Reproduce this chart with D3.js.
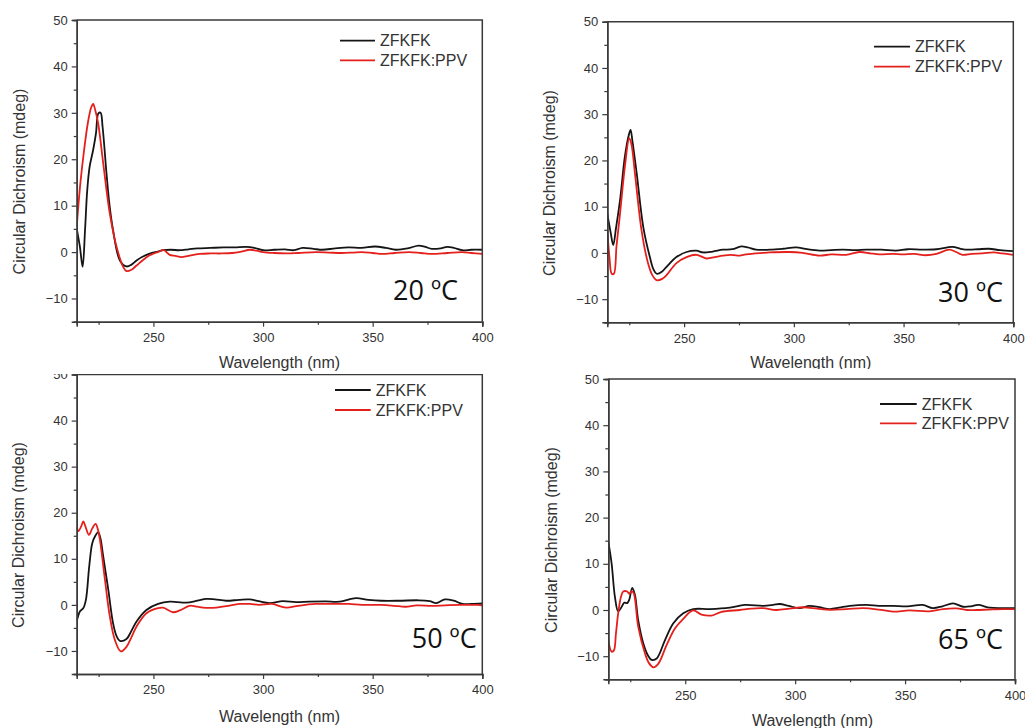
<!DOCTYPE html>
<html>
<head>
<meta charset="utf-8">
<script src="https://cdn.jsdelivr.net/npm/d3@7"></script>
<style>
  html, body { margin: 0; padding: 0; background: #ffffff; }
  svg { display: block; }
</style>
</head>
<body>
<svg id="chart" width="1025" height="728"></svg>
<script>
// ---------------- DATA ----------------
const seriesNames = ["ZFKFK", "ZFKFK:PPV"];
const panelLabels = ["20 ºC", "30 ºC", "50 ºC", "65 ºC"];
const xTickValues = [250, 300, 350, 400];
const xMinorTicks = [225, 275, 325, 375];
const yTickValues = [-10, 0, 10, 20, 30, 40, 50];
const yMinorTicks = [-15, -5, 5, 15, 25, 35, 45];

// 20 ºC
const wl20a = [215,216.5,217.7,218.8,219.8,220.9,222.5,223.8,224.9,225.9,226.8,228.6,230,231.6,234.7,237.7,240,242.3,245,248.3,252,254.4,258,262,266,270,276,282,287,292.3,296,300,305,310,314,318,323,327,333,339,345,351,356,360.5,366,371,374,377,381,384,387,390.8,395,400];
const zf20 = [5.1,1.0,-3.2,4.7,13.3,18.4,22,25.6,29.9,30,27,16.9,10,4.7,-1.8,-3.1,-2.7,-1.8,-1.0,-0.35,0.1,0.4,0.5,0.4,0.6,0.8,0.9,1.0,1.0,1.1,0.9,0.4,0.5,0.6,0.4,0.9,0.7,0.5,0.8,1.0,0.9,1.2,0.9,0.5,0.8,1.4,1.1,0.7,0.8,1.1,0.9,0.4,0.5,0.5];
const wl20b = [215,216.5,218,219.2,220.3,221.5,222.5,223.5,224.8,227.1,230.1,233.2,236.2,237.7,240,242.3,245,248.3,252,254.7,257.4,260,262.7,266,271,276,281,286,290,294,297,300,305,310.5,316,324,330,336,341,345,350,354.4,360,366.6,372,377,384,390.8,395,400];
const ppv20 = [5.4,14,20.5,25,28.4,31,31.9,30.5,27.7,19.1,8.3,1.1,-3.2,-4.1,-3.8,-2.9,-1.8,-0.7,0.0,0.4,-0.6,-0.8,-1.1,-0.8,-0.4,-0.3,-0.3,-0.2,0.1,0.5,0.3,0.0,-0.2,-0.3,-0.2,0.0,-0.1,-0.2,-0.1,0.0,-0.2,-0.4,-0.2,0.0,-0.2,-0.4,-0.2,0.0,-0.2,-0.4];

// 30 ºC
const wl30a = [215,216.5,217.7,219,220.8,223,224.8,225.6,226.5,228.4,231.4,234.4,236,237.5,240,242,246.5,251.1,255.6,258.6,263,267.7,272,276,279,282.8,289,295,301,306,311.7,317,322.3,328,332.8,340,346.5,352,358.6,365,372.3,376,379.8,384,388.9,394,400];
const zf30 = [8.5,4.5,1.7,5.5,11.4,20.8,25.5,26.6,24,17.2,5.6,-0.9,-3.5,-4.5,-4.0,-3.0,-0.9,0.2,0.5,0.1,0.3,0.7,0.8,1.4,1.2,0.7,0.7,0.9,1.2,0.8,0.5,0.6,0.7,0.6,0.7,0.7,0.5,0.8,0.7,0.8,1.3,0.9,0.7,0.8,0.9,0.6,0.4];
const wl30b = [215,216,217,218,219.2,220.8,223,225,226,227.6,230.6,233.6,235.5,237.5,240,242,246.5,251.1,255.6,260.2,264,267.7,271,274.5,278.3,285.8,289,298,304,311.7,317,323.8,329.9,335,339,345,349.6,355,360,365,370.8,374,376.8,381,385.9,391,395,400];
const ppv30 = [4.9,-1,-4.5,-4.5,1.5,8.5,18.6,24.8,23.5,17.2,4.9,-2.3,-4.8,-5.9,-5.6,-4.8,-2.2,-0.9,-0.4,-1.2,-0.9,-0.6,-0.4,-0.6,-0.3,0.0,0.1,0.2,0.0,-0.6,-0.3,-0.4,0.2,-0.1,-0.3,-0.2,-0.3,-0.2,-0.5,-0.2,0.7,0.2,-0.4,-0.2,-0.1,0.1,-0.1,-0.4];

// 50 ºC
const wl50a = [215,216.5,218,219.2,220.7,222.1,223.5,224.8,225.8,227.1,229.4,231.6,233.2,234.7,237.7,240,242.3,246.8,252.1,257.4,261,265,270,274.1,278,283.2,289,293.8,298,303,309,315,321,328.6,335,342.3,348,354,362,371,376,379,383,387,391,395,400];
const zf50 = [-3.6,-1.4,-0.7,1.1,8.3,13.4,15,15.8,14.5,10.5,3.3,-4.0,-6.8,-7.8,-7.4,-5.6,-3.6,-1.1,0.2,0.7,0.6,0.5,0.9,1.3,1.2,0.9,1.1,1.2,0.8,0.4,0.8,0.6,0.7,0.75,0.7,1.45,1.1,0.9,0.9,1.0,0.8,0.4,1.2,0.9,0.2,0.2,0.3];
const wl50b = [215,215.8,217,218,219,220.6,222,223.6,224.6,225.6,227.9,230.1,232.4,235.1,237.7,240,242.3,246.8,252.1,254.4,258.9,262,266.5,270,272.6,278.6,284,289.2,294,298.3,304,310.5,316,324,330,339,345,354,360,365,370,377,383,390,398,400];
const ppv50 = [16.9,16,17,18.1,17,15.2,16.5,17.6,16.5,14.1,5.4,-2.5,-7.6,-10.1,-9.1,-7,-4.7,-1.8,-0.7,-0.6,-1.6,-1.2,-0.2,-0.4,-0.6,-0.6,-0.2,0.2,0.2,0.0,0.2,-0.6,-0.2,0.2,0.2,0.2,0.0,0.0,-0.2,-0.4,-0.1,-0.2,-0.1,0.0,0.0,-0.1];

// 65 ºC
const wl65a = [215,216.5,218,219.5,221.1,222.3,223.6,224.5,225.9,227.1,228.6,230.9,233,234.7,237,240.8,244.5,249.1,253.6,261.2,270.3,277.1,285.4,290,293,297,302,306.5,311,315.8,320,324.9,332.5,338,344.5,351,358,362.6,367,371.8,376.4,380,383.2,388.5,394,400];
const zf65 = [14.8,10.1,2.9,-0.3,0.7,1.6,1.5,2.2,4.8,3.3,-2.2,-7.2,-9.8,-10.8,-10.5,-6.5,-2.9,-0.7,0.2,0.2,0.5,1.1,0.9,1.1,1.3,0.9,0.4,0.9,0.6,0.2,0.5,0.9,1.1,0.9,0.9,0.8,1.1,0.4,0.8,1.45,0.7,0.8,1.1,0.5,0.4,0.4];
const wl65b = [215,216.5,217.5,218.5,219.5,220.8,221.8,223.6,224.5,225.6,226.6,228.6,231.7,233.5,235.5,237.8,241.5,245.3,249.1,253.6,257.4,262,266.5,274.8,280,285.4,291.4,297.5,303.5,310,315.8,323.4,331,338,344.5,352,361,367.3,373.3,378,382.4,388,394.5,400];
const ppv65 = [-6.5,-9.0,-8.8,-5,-0.7,2.9,4.0,4.0,3.5,4.1,3.6,-3.6,-9.4,-11.5,-12.4,-11.6,-7.6,-4.0,-1.9,-0.1,-1.0,-1.2,-0.4,0.0,0.3,0.4,0.0,0.3,0.6,0.3,0.05,0.2,0.4,0.1,-0.35,-0.1,-0.3,0.2,0.35,0.0,0.0,0.1,0.2,0.2];

// ---------------- LAYOUT ----------------
const panels = [
  { label: panelLabels[0], wa: wl20a, a: zf20, wb: wl20b, b: ppv20,
    x0: 76.7, x1: 482.3, yTop: 20, yBot: 321.7,
    leg: { x0: 340, x1: 375, y: 40.7, gap: 19.6 },
    tl: { x: 393, y: 300 }, xt: { x: 279.5, y: 368 }, yt: { x: 19, y: 181.5 } },
  { label: panelLabels[1], wa: wl30a, a: zf30, wb: wl30b, b: ppv30,
    x0: 607.3, x1: 1013.3, yTop: 21.7, yBot: 322.3,
    leg: { x0: 874, x1: 910, y: 46.7, gap: 20 },
    tl: { x: 938, y: 301.7 }, xt: { x: 810.8, y: 368 }, yt: { x: 549, y: 183 },
    bg: null },
  { label: panelLabels[2], wa: wl50a, a: zf50, wb: wl50b, b: ppv50,
    x0: 76.7, x1: 482.3, yTop: 374.5, yBot: 674,
    leg: { x0: 335, x1: 370.7, y: 390, gap: 20 },
    tl: { x: 411.7, y: 648.3 }, xt: { x: 279.5, y: 722 }, yt: { x: 18, y: 535 },
    bg: { x: 0, y: 374, w: 512, h: 354 } },
  { label: panelLabels[3], wa: wl65a, a: zf65, wb: wl65b, b: ppv65,
    x0: 608.3, x1: 1015, yTop: 379, yBot: 679.3,
    leg: { x0: 880, x1: 916.7, y: 404, gap: 19.3 },
    tl: { x: 938, y: 649.3 }, xt: { x: 812.5, y: 726 }, yt: { x: 551, y: 540 },
    bg: { x: 512, y: 369, w: 513, h: 359 } }
];

const colors = ["#151515", "#e4201c"];
const axisColor = "#3a3a3a";
const textColor = "#333333";
const font = "'Liberation Sans', Arial, sans-serif";

const svg = d3.select("#chart");
const defs = svg.append("defs");

panels.forEach((p, i) => {
  // clip for panel region (so later panels overlap earlier ones)
  let g = svg.append("g");
  if (p.bg) {
    defs.append("clipPath").attr("id", "panelclip" + i)
      .append("rect").attr("x", p.bg.x).attr("y", p.bg.y).attr("width", p.bg.w).attr("height", p.bg.h);
    g.attr("clip-path", `url(#panelclip${i})`);
    g.append("rect").attr("x", p.bg.x).attr("y", p.bg.y).attr("width", p.bg.w).attr("height", p.bg.h)
      .attr("fill", "#ffffff");
  }

  const x = d3.scaleLinear().domain([215, 400]).range([p.x0, p.x1]);
  const y = d3.scaleLinear().domain([-15, 50]).range([p.yBot, p.yTop]);

  defs.append("clipPath").attr("id", "plotclip" + i)
    .append("rect").attr("x", p.x0).attr("y", p.yTop).attr("width", p.x1 - p.x0).attr("height", p.yBot - p.yTop);

  // data lines
  const line = d3.line().x(d => x(d[0])).y(d => y(d[1])).curve(d3.curveCatmullRom.alpha(0.5));
  const plot = g.append("g").attr("clip-path", `url(#plotclip${i})`);
  plot.append("path").datum(p.wa.map((w, k) => [w, p.a[k]]))
    .attr("d", line).attr("fill", "none").attr("stroke", colors[0]).attr("stroke-width", 1.8)
    .attr("stroke-linejoin", "round");
  plot.append("path").datum(p.wb.map((w, k) => [w, p.b[k]]))
    .attr("d", line).attr("fill", "none").attr("stroke", colors[1]).attr("stroke-width", 1.8)
    .attr("stroke-linejoin", "round");

  // axes
  const xAxis = g.append("g").attr("transform", `translate(0,${p.yBot})`)
    .call(d3.axisBottom(x).tickValues(xTickValues).tickSize(5).tickPadding(6).tickFormat(d3.format("d")));
  const xMinor = g.append("g").attr("transform", `translate(0,${p.yBot})`)
    .call(d3.axisBottom(x).tickValues(xMinorTicks).tickSize(3).tickFormat(""));
  const yAxis = g.append("g").attr("transform", `translate(${p.x0},0)`)
    .call(d3.axisLeft(y).tickValues(yTickValues).tickSize(5).tickPadding(4).tickFormat(d3.format("d")));
  const yMinor = g.append("g").attr("transform", `translate(${p.x0},0)`)
    .call(d3.axisLeft(y).tickValues(yMinorTicks).tickSize(3).tickFormat(""));
  [xAxis, xMinor, yAxis, yMinor].forEach(a => {
    a.selectAll(".domain").attr("stroke", axisColor).attr("stroke-width", 1.5);
    a.selectAll(".tick line").attr("stroke", axisColor).attr("stroke-width", 1.2);
    a.selectAll(".tick text").attr("fill", textColor).attr("font-size", 13).attr("font-family", font);
  });
  // frame top/right
  g.append("path")
    .attr("d", `M${p.x0},${p.yTop}H${p.x1}V${p.yBot}`)
    .attr("fill", "none").attr("stroke", axisColor).attr("stroke-width", 1.5);

  // axis titles
  g.append("text").attr("x", p.xt.x).attr("y", p.xt.y).attr("text-anchor", "middle")
    .attr("font-family", font).attr("font-size", 16).attr("fill", textColor).text("Wavelength (nm)");
  g.append("text").attr("transform", `translate(${p.yt.x + 5.5},${p.yt.y}) rotate(-90)`)
    .attr("text-anchor", "middle").attr("font-family", font).attr("font-size", 16).attr("fill", textColor)
    .text("Circular Dichroism (mdeg)");

  // legend
  seriesNames.forEach((name, k) => {
    const ly = p.leg.y + k * p.leg.gap;
    g.append("line").attr("x1", p.leg.x0).attr("x2", p.leg.x1).attr("y1", ly).attr("y2", ly)
      .attr("stroke", colors[k]).attr("stroke-width", 1.8);
    g.append("text").attr("x", p.leg.x1 + 5).attr("y", ly).attr("dy", "0.36em")
      .attr("font-family", font).attr("font-size", 16).attr("fill", textColor).text(name);
  });

  // temperature label
  g.append("text").attr("x", p.tl.x).attr("y", p.tl.y)
    .attr("font-family", "'Open Sans', 'Noto Sans', sans-serif").attr("font-size", 27).attr("fill", "#111")
    .text(p.label);
});
</script>
</body>
</html>
